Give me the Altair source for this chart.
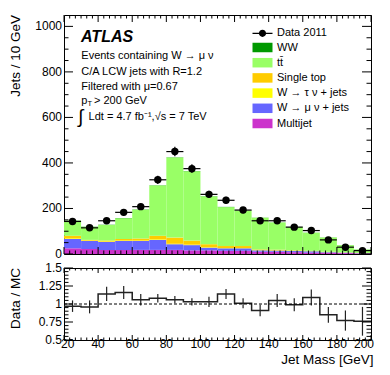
import altair as alt
import pandas as pd

# ---------------- data ----------------
bin_lo = [20, 30, 40, 50, 60, 70, 80, 90, 100, 110, 120, 130, 140, 150, 160, 170, 180, 190]
bin_width = 10
data_2011 = [143, 115, 146, 183, 208, 326, 450, 375, 262, 236, 193, 146, 146, 118, 103, 62, 30, 15]
data_err = [12, 11, 12, 14, 14, 18, 21, 19, 16, 15, 14, 12, 12, 11, 10, 8, 5.5, 4]

ww = [1, 1, 1, 1, 1, 1, 1, 1, 1, 1, 1, 0.5, 0.5, 0.5, 0.5, 0.5, 0.5, 0.5]
ttbar = [66, 57, 68, 91, 127, 221, 352, 304, 210, 171, 155, 139.5, 119.5, 102.5, 79.5, 62.5, 31.5, 14.5]
single_top = [11, 3, 4, 7, 9, 15, 27, 18, 13, 9, 9, 3, 3, 2, 1, 1, 0.5, 0.5]
w_taunu = [3, 2, 2, 2, 2, 3, 2, 2, 2, 1, 1, 1, 1, 1, 1, 1, 0.5, 0.5]
w_munu = [41, 35, 35, 39, 39, 44, 25, 23, 12, 11, 11, 6, 5, 5, 6, 3, 2, 1]
multijet = [25, 22, 18, 18, 18, 18, 18, 16, 16, 14, 14, 10, 10, 8, 6, 5, 4, 3]

ratio = [0.97, 0.96, 1.14, 1.16, 1.06, 1.08, 1.06, 1.03, 1.03, 1.14, 1.01, 0.91, 1.05, 0.99, 1.09, 0.85, 0.77, 0.76]
ratio_err = [0.08, 0.09, 0.10, 0.09, 0.08, 0.06, 0.05, 0.05, 0.07, 0.07, 0.07, 0.08, 0.09, 0.09, 0.11, 0.11, 0.14, 0.20]

legend_names = ["WW", "t\u0074\u0304", "Single top", "W \u2192 \u03c4 \u03bd + jets", "W \u2192 \u03bc \u03bd + jets", "Multijet"]
legend_colors = ["#009900", "#99ff66", "#ffcc00", "#ffff00", "#6666ff", "#cc33cc"]
x_major = [20, 40, 60, 80, 100, 120, 140, 160, 180, 200]
x_major_labels = ["20", "40", "60", "80", "100", "120", "140", "160", "180", "200"]
top_y_major = [0, 200, 400, 600, 800, 1000]
top_y_labels = ["0", "200", "400", "600", "800", "1000"]
ratio_y_major = [0.5, 0.75, 1, 1.25, 1.5]
ratio_y_labels = ["0.5", "0.75", "1", "1.25", "1.5"]

# ---------------- tables ----------------
stack_bottom_to_top = [
    (legend_names[5], multijet),
    (legend_names[4], w_munu),
    (legend_names[3], w_taunu),
    (legend_names[2], single_top),
    (legend_names[1], ttbar),
    (legend_names[0], ww),
]
rows = []
for i, lo in enumerate(bin_lo):
    cum = 0.0
    for name, vals in stack_bottom_to_top:
        rows.append({"lo": lo, "hi": lo + bin_width, "comp": name, "y0": cum, "y1": cum + vals[i]})
        cum += vals[i]
stack_df = pd.DataFrame(rows)

pts = pd.DataFrame({"lo": bin_lo, "val": data_2011, "err": data_err, "r": ratio, "rerr": ratio_err})
pts["hi"] = pts["lo"] + bin_width
pts["mid"] = pts["lo"] + bin_width / 2
pts["lab"] = "Data 2011"
pts["lo_e"] = pts["val"] - pts["err"]
pts["hi_e"] = pts["val"] + pts["err"]
pts["r_lo"] = pts["r"] - pts["rerr"]
pts["r_hi"] = pts["r"] + pts["rerr"]

step_df = pd.DataFrame({"x": bin_lo + [bin_lo[-1] + bin_width], "r": ratio + [ratio[-1]]})

# ---------------- layout constants ----------------
W = 307
H1 = 239
H2 = 72
FONT = "Liberation Sans"

xs = alt.Scale(domain=[20, 200], nice=False, zero=False)
ys_top = alt.Scale(domain=[0, 1050], nice=False, zero=False)
ys_bot = alt.Scale(domain=[0.5, 1.5], nice=False, zero=False)

top_minor_x = [20 + k * 20 / 6 for k in range(55) if k % 6 != 0]
top_minor_y = [v for v in range(0, 1050, 50) if v % 200 != 0]
bot_minor_y = [0.5 + k * 0.05 for k in range(21) if k % 5 != 0]


def xticks(values, scale, H, L, side):
    df = pd.DataFrame({"v": values})
    if side == "bottom":
        yy, yy2 = alt.value(H), alt.value(H - L)
    else:
        yy, yy2 = alt.value(0), alt.value(L)
    return alt.Chart(df).mark_rule(color="black", strokeWidth=1).encode(
        x=alt.X("v:Q", scale=scale, axis=None), y=yy, y2=yy2)


def yticks(values, scale, L, side):
    df = pd.DataFrame({"v": values})
    if side == "left":
        xx, xx2 = alt.value(0), alt.value(L)
    else:
        xx, xx2 = alt.value(W), alt.value(W - L)
    return alt.Chart(df).mark_rule(color="black", strokeWidth=1).encode(
        y=alt.Y("v:Q", scale=scale, axis=None), x=xx, x2=xx2)


def ylabels(values, labels, scale):
    df = pd.DataFrame({"v": values, "t": labels})
    return alt.Chart(df).mark_text(align="right", baseline="middle", font=FONT,
                                   fontSize=12, color="black", dx=-2).encode(
        y=alt.Y("v:Q", scale=scale, axis=None), x=alt.value(0), text="t:N")


def xlabels(values, labels, scale, H, align="center", dx=0):
    df = pd.DataFrame({"v": values, "t": labels})
    return alt.Chart(df).mark_text(align=align, baseline="top", font=FONT,
                                   fontSize=12, color="black", dx=dx).encode(
        x=alt.X("v:Q", scale=scale, axis=None), y=alt.value(H - 1), text="t:N")


def note(text, x, y, size=11, weight="normal", style="normal", align="left", angle=0):
    return alt.Chart(pd.DataFrame({"t": [text]})).mark_text(
        align=align, baseline="middle", font=FONT, fontSize=size, angle=angle,
        fontWeight=weight, fontStyle=style, color="black").encode(
        x=alt.value(x), y=alt.value(y), text="t:N")


rect_symbol = "M-2,-0.95H2V0.95H-2Z"
data_symbol = ("M-2,-0.12H2V0.12H-2Z "
               "M0.72,0A0.72,0.72 0 1,1 -0.72,0A0.72,0.72 0 1,1 0.72,0Z")

stack = alt.Chart(stack_df).mark_rect().encode(
    x=alt.X("lo:Q", scale=xs, axis=None),
    x2="hi:Q",
    y=alt.Y("y0:Q", scale=ys_top, axis=None),
    y2="y1:Q",
    color=alt.Color("comp:N", scale=alt.Scale(domain=legend_names, range=legend_colors),
                    legend=alt.Legend(title=None, orient="none", legendX=193, legendY=27,
                                      symbolType=rect_symbol, symbolSize=100, symbolStrokeWidth=0,
                                      labelFont=FONT, labelFontSize=11, labelColor="black",
                                      labelOffset=9, rowPadding=3.2, padding=0)),
)

hbars = alt.Chart(pts).mark_rule(color="black", strokeWidth=1.2).encode(
    x=alt.X("lo:Q", scale=xs, axis=None), x2="hi:Q",
    y=alt.Y("val:Q", scale=ys_top, axis=None))
vbars = alt.Chart(pts).mark_rule(color="black", strokeWidth=1.2).encode(
    x=alt.X("mid:Q", scale=xs, axis=None),
    y=alt.Y("lo_e:Q", scale=ys_top, axis=None), y2="hi_e:Q")
dots = alt.Chart(pts).mark_circle(color="black", size=55, opacity=1).encode(
    x=alt.X("mid:Q", scale=xs, axis=None),
    y=alt.Y("val:Q", scale=ys_top, axis=None),
    opacity=alt.Opacity("lab:N", scale=alt.Scale(domain=["Data 2011"], range=[1]),
                        legend=alt.Legend(title=None, orient="none", legendX=193, legendY=12.8,
                                          symbolType=data_symbol, symbolSize=100,
                                          symbolFillColor="black", symbolStrokeWidth=0,
                                          labelFont=FONT, labelFontSize=11, labelColor="black",
                                          labelOffset=9, padding=0)),
)

top_layers = [
    stack,
    xticks(x_major, xs, H1, 7, "bottom"), xticks(top_minor_x, xs, H1, 3.5, "bottom"),
    xticks(x_major, xs, H1, 7, "top"), xticks(top_minor_x, xs, H1, 3.5, "top"),
    yticks(top_y_major, ys_top, 9, "left"), yticks(top_minor_y, ys_top, 4.5, "left"),
    yticks(top_y_major, ys_top, 9, "right"), yticks(top_minor_y, ys_top, 4.5, "right"),
    hbars, vbars, dots,
    ylabels(top_y_major, top_y_labels, ys_top),
    note("Jets / 10 GeV", -48, 0, size=13.5, align="right", angle=270),
    note("ATLAS", 17, 21.5, size=16, weight="bold", style="italic"),
    note("Events containing W \u2192 \u03bc \u03bd", 17.3, 41),
    note("C/A LCW jets with R=1.2", 17.3, 57),
    note("Filtered with \u03bc=0.67", 17.3, 72),
    note("p", 17.3, 85.5),
    note("T", 23.6, 89, size=7.5),
    note("> 200 GeV", 30, 86),
    note("\u222b", 14, 102, size=19),
    note("Ldt = 4.7 fb\u207b\u00b9,\u221as = 7 TeV", 24.6, 102),
]
top = alt.layer(*top_layers).properties(width=W, height=H1)

step = alt.Chart(step_df).mark_line(interpolate="step-after", color="#222222", strokeWidth=1.5).encode(
    x=alt.X("x:Q", scale=xs, axis=None),
    y=alt.Y("r:Q", scale=ys_bot, axis=None))
rerr = alt.Chart(pts).mark_rule(color="#222222", strokeWidth=1.2).encode(
    x=alt.X("mid:Q", scale=xs, axis=None),
    y=alt.Y("r_lo:Q", scale=ys_bot, axis=None), y2="r_hi:Q")
unity = alt.Chart(pd.DataFrame({"one": [1]})).mark_rule(color="black", strokeWidth=1, strokeDash=[3, 2]).encode(
    y=alt.Y("one:Q", scale=ys_bot, axis=None), x=alt.value(0), x2=alt.value(W))

bot_layers = [
    step, rerr, unity,
    xticks(x_major, xs, H2, 5, "bottom"), xticks(top_minor_x, xs, H2, 2.5, "bottom"),
    xticks(x_major, xs, H2, 5, "top"), xticks(top_minor_x, xs, H2, 2.5, "top"),
    yticks(ratio_y_major, ys_bot, 9, "left"), yticks(bot_minor_y, ys_bot, 4.5, "left"),
    yticks(ratio_y_major, ys_bot, 9, "right"), yticks(bot_minor_y, ys_bot, 4.5, "right"),
    ylabels(ratio_y_major, ratio_y_labels, ys_bot),
    xlabels(x_major[1:-1], x_major_labels[1:-1], xs, H2),
    xlabels(x_major[:1], x_major_labels[:1], xs, H2, align="left", dx=-3),
    xlabels(x_major[-1:], x_major_labels[-1:], xs, H2, align="right", dx=3),
    note("Data / MC", -48, 30.5, size=13.5, align="center", angle=270),
    note("Jet Mass [GeV]", 309.5, H2 + 19.5, size=13.5, align="right"),
]
bottom = alt.layer(*bot_layers).properties(width=W, height=H2)

chart = alt.vconcat(top, bottom, spacing=14, bounds="flush").resolve_scale(
    color="independent", opacity="independent"
).resolve_legend(color="independent", opacity="independent").properties(
    padding={"left": 0, "top": 6, "right": 5, "bottom": 5}
).configure_view(stroke="black", strokeWidth=1)

chart.save("out.html", embed_options={"renderer": "svg", "actions": False})
